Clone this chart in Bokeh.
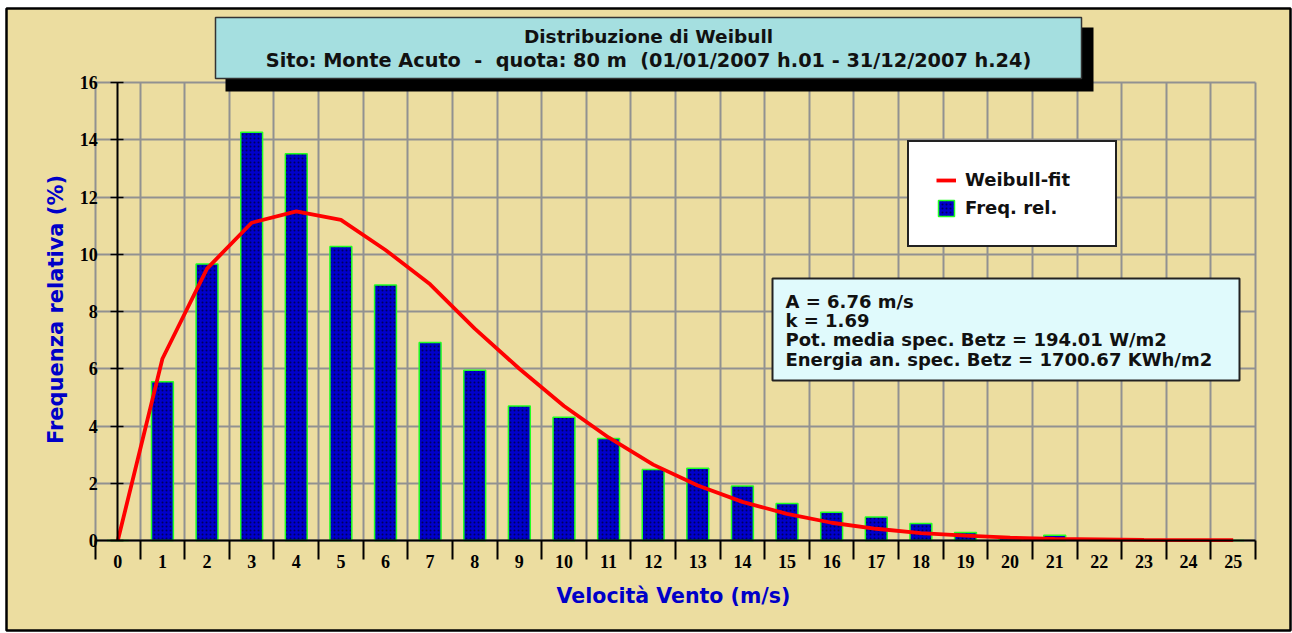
import math
from bokeh.plotting import figure
from bokeh.models import (FixedTicker, BoxAnnotation, Label, Legend, LegendItem,
                          ColumnDataSource)
from bokeh.embed import file_html
from bokeh.resources import INLINE

# ---------------- data ----------------
speeds = list(range(26))                      # wind speed classes (m/s)
freq_rel = [0, 5.55, 9.66, 14.26, 13.51, 10.27, 8.93, 6.92, 5.95, 4.70,
            4.31, 3.56, 2.48, 2.52, 1.90, 1.29, 0.99, 0.82, 0.59, 0.28,
            0.08, 0.18, 0, 0, 0, 0]
weibull_fit = [0, 6.35, 9.50, 11.10, 11.50, 11.20, 10.15, 8.95, 7.40, 6.00,
               4.70, 3.60, 2.65, 1.92, 1.35, 0.93, 0.62, 0.41, 0.26, 0.17,
               0.10, 0.06, 0.04, 0.02, 0.01, 0.01]
y_ticks = [0, 2, 4, 6, 8, 10, 12, 14, 16]

title_lines = ["Distribuzione di Weibull",
               "Sito: Monte Acuto\u00a0\u00a0-\u00a0\u00a0quota: 80 m\u00a0\u00a0(01/01/2007 h.01 - 31/12/2007 h.24)"]
info_lines = ["A = 6.76 m/s", "k = 1.69",
              "Pot. media spec. Betz = 194.01 W/m2",
              "Energia an. spec. Betz = 1700.67 KWh/m2"]
x_title = "Velocità Vento (m/s)"
y_title = "Frequenza relativa (%)"

# ---------------- layout constants (pixels) ----------------
W, H = 1292, 633
PX_L, PX_R = 95, 1255      # plot area left / right
PY_T, PY_B = 82, 540       # plot area top / bottom
x_lo, x_hi = speeds[0] - 0.5, speeds[-1] + 0.5
y_lo, y_hi = y_ticks[0], y_ticks[-1]
ppx = (PX_R - PX_L) / (x_hi - x_lo)
ppy = (PY_B - PY_T) / (y_hi - y_lo)
x_range = (x_lo - PX_L / ppx, x_hi + (W - PX_R) / ppx)
y_range = (y_lo - (H - PY_B) / ppy, y_hi + PY_T / ppy)


def sy(py):
    return H - py


BG = "#ECDDA0"
GRID = "#919191"
AXIS_BLUE = "#0000C8"
TXT = "#111111"

p = figure(width=W, height=H, output_backend="svg", toolbar_location=None,
           x_range=x_range, y_range=y_range, min_border=0,
           background_fill_color="white", border_fill_color="white")
p.outline_line_color = None
p.title.visible = False

# chart background + outer frame
p.add_layout(BoxAnnotation(left=6, right=1290, top=sy(8), bottom=sy(630),
                           left_units="screen", right_units="screen",
                           top_units="screen", bottom_units="screen",
                           fill_color=BG, fill_alpha=1, line_color="black",
                           line_alpha=1, line_width=2.5, level="image"))

boundaries = [s - 0.5 for s in speeds] + [speeds[-1] + 0.5]

# x axis
xa = p.xaxis[0]
xa.fixed_location = 0
xa.bounds = (x_lo, x_hi)
xa.ticker = FixedTicker(ticks=speeds, minor_ticks=boundaries)
xa.major_tick_line_color = None
xa.major_tick_in = 0
xa.major_tick_out = 0
xa.minor_tick_line_color = "black"
xa.minor_tick_line_width = 2
xa.minor_tick_in = 0
xa.minor_tick_out = 19
xa.axis_line_color = "black"
xa.axis_line_width = 2
xa.major_label_standoff = -5
xa.major_label_text_font = "Liberation Serif"
xa.major_label_text_font_style = "bold"
xa.major_label_text_font_size = "18px"
xa.major_label_text_color = "black"

# y axis (crossing at speed 0)
ya = p.yaxis[0]
ya.fixed_location = 0
ya.bounds = (y_lo, y_hi)
ya.ticker = FixedTicker(ticks=y_ticks, minor_ticks=[])
ya.major_tick_in = 6
ya.major_tick_out = 7
ya.major_tick_line_color = "black"
ya.major_tick_line_width = 1.5
ya.minor_tick_line_color = None
ya.axis_line_color = "black"
ya.axis_line_width = 2
ya.major_label_standoff = 13
ya.major_label_text_font = "Liberation Serif"
ya.major_label_text_font_style = "bold"
ya.major_label_text_font_size = "18px"
ya.major_label_text_color = "black"

# grids
p.xgrid.ticker = FixedTicker(ticks=boundaries)
p.xgrid.cross_bounds = (y_lo, y_hi)
p.ygrid.ticker = FixedTicker(ticks=y_ticks)
p.ygrid.cross_bounds = (x_lo, x_hi)
for g in (p.xgrid, p.ygrid):
    g.grid_line_color = GRID
    g.grid_line_width = 2

# ---------------- glyphs ----------------
src = ColumnDataSource(dict(x=speeds, freq=freq_rel, fit=weibull_fit))
bars = p.vbar(x="x", top="freq", width=0.49, source=src,
              fill_color="#0000CC", line_color="#22FF22", line_width=1.5,
              hatch_pattern="dot", hatch_color="#000040", hatch_scale=4,
              hatch_weight=1.5, hatch_alpha=0.8)
line = p.line(x="x", y="fit", source=src, line_color="#FF0000", line_width=3.8)

# ---------------- axis titles ----------------
p.add_layout(Label(x=(PX_L + PX_R) / 2 - 2, y=sy(595), x_units="screen", y_units="screen",
                   text=x_title, text_align="center", text_baseline="middle",
                   text_font="DejaVu Sans", text_font_style="bold",
                   text_font_size="20.5px", text_color=AXIS_BLUE))
p.add_layout(Label(x=55, y=sy(309), x_units="screen", y_units="screen",
                   angle=math.pi / 2,
                   text=y_title, text_align="center", text_baseline="middle",
                   text_font="DejaVu Sans", text_font_style="bold",
                   text_font_size="21px", text_color=AXIS_BLUE))

# ---------------- legend ----------------
legend = Legend(items=[LegendItem(label="Weibull-fit", renderers=[line]),
                       LegendItem(label="Freq. rel.", renderers=[bars])],
                location=(907, sy(247)), margin=0, padding=27, spacing=7,
                glyph_width=20, glyph_height=20, label_standoff=9,
                label_width=123,
                label_text_font="DejaVu Sans", label_text_font_style="bold",
                label_text_font_size="18px", label_text_color=TXT,
                background_fill_color="white", background_fill_alpha=1,
                border_line_color="#222222", border_line_alpha=1,
                border_line_width=2)
p.add_layout(legend)

# ---------------- title box ----------------
p.add_layout(BoxAnnotation(left=225, right=1093, top=sy(27), bottom=sy(91),
                           left_units="screen", right_units="screen",
                           top_units="screen", bottom_units="screen",
                           fill_color="black", fill_alpha=1, line_color=None))
p.add_layout(BoxAnnotation(left=215, right=1081, top=sy(17), bottom=sy(78),
                           left_units="screen", right_units="screen",
                           top_units="screen", bottom_units="screen",
                           fill_color="#A5DFE0", fill_alpha=1,
                           line_color="#333333", line_alpha=1, line_width=1.5))
title_sizes = ["18.5px", "19.3px"]
for i, t in enumerate(title_lines):
    p.add_layout(Label(x=648, y=sy(35.5 + 24.5 * i), x_units="screen", y_units="screen",
                       text=t, text_align="center", text_baseline="middle",
                       text_font="DejaVu Sans", text_font_style="bold",
                       text_font_size=title_sizes[i], text_color=TXT))

# ---------------- info box ----------------
p.add_layout(BoxAnnotation(left=772, right=1239, top=sy(278), bottom=sy(380),
                           left_units="screen", right_units="screen",
                           top_units="screen", bottom_units="screen",
                           fill_color="#E0FAFC", fill_alpha=1,
                           line_color="#222222", line_alpha=1, line_width=2))
for i, t in enumerate(info_lines):
    p.add_layout(Label(x=785, y=sy(300.5 + 19.4 * i), x_units="screen", y_units="screen",
                       text=t, text_align="left", text_baseline="middle",
                       text_font="DejaVu Sans", text_font_style="bold",
                       text_font_size="18px", text_color=TXT))

open("out.html", "w").write(file_html(p, INLINE))
